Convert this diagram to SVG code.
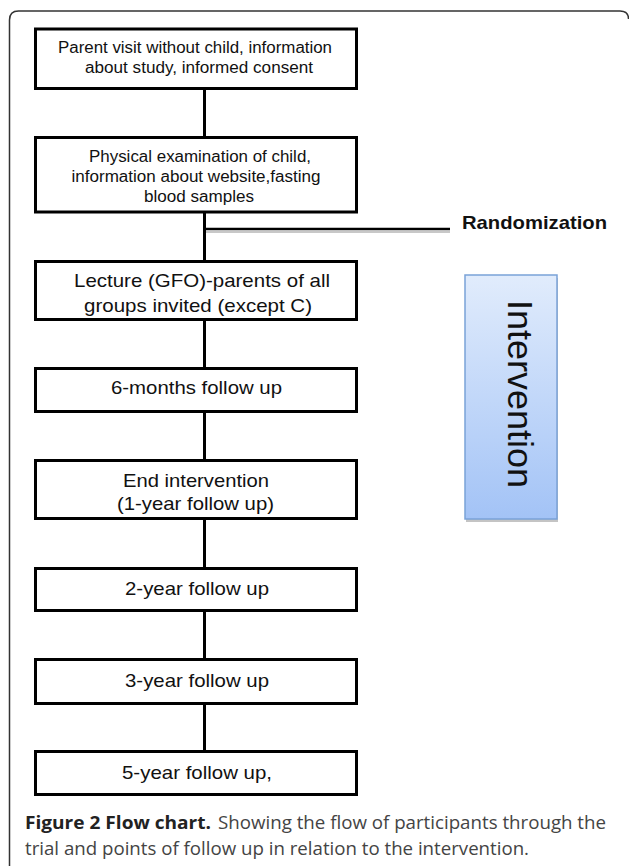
<svg xmlns="http://www.w3.org/2000/svg" width="629" height="866" viewBox="0 0 629 866">
<style>
.box{fill:#fff;stroke:#000;stroke-width:3}
.t{font-family:"Liberation Sans",Arial,sans-serif;fill:#111;text-anchor:middle}
.s{font-size:16px}
.m{font-size:19px}
.con{stroke:#000;stroke-width:3;fill:none}
.cap{font-family:"Open Sans","Noto Sans",sans-serif;font-size:18px}
</style>
<defs>
<linearGradient id="ig" x1="0" y1="0" x2="0" y2="1">
<stop offset="0" stop-color="#e1ecfc"/>
<stop offset="1" stop-color="#a3c3f6"/>
</linearGradient>
</defs>
<rect width="629" height="866" fill="#fff"/>
<path d="M9.5,866 V20 Q9.5,11 18.5,11 H620 Q628.5,11 628.5,19" fill="none" stroke="#333" stroke-width="1.5"/>

<g id="connectors">
<line class="con" x1="204.5" y1="90" x2="204.5" y2="136"/>
<line class="con" x1="204.5" y1="213" x2="204.5" y2="260"/>
<line x1="206" y1="232" x2="450" y2="232" stroke="#c8c8c8" stroke-width="2"/>
<line x1="204" y1="229" x2="450" y2="229" stroke="#000" stroke-width="2.5"/>
<line class="con" x1="204.5" y1="321" x2="204.5" y2="367"/>
<line class="con" x1="204.5" y1="413" x2="204.5" y2="459"/>
<line class="con" x1="204.5" y1="520" x2="204.5" y2="567"/>
<line class="con" x1="204.5" y1="612" x2="204.5" y2="658"/>
<line class="con" x1="204.5" y1="705" x2="204.5" y2="750"/>
</g>

<g id="n1">
<rect class="box" x="35.5" y="29" width="321" height="59.5"/>
<text class="t s" x="195" y="52.5" textLength="274" lengthAdjust="spacingAndGlyphs">Parent visit without child, information</text>
<text class="t s" x="199" y="72.5" textLength="228" lengthAdjust="spacingAndGlyphs">about study, informed consent</text>
</g>

<g id="n2">
<rect class="box" x="35.5" y="137.5" width="321" height="74.5"/>
<text class="t s" x="200" y="161.5" textLength="222" lengthAdjust="spacingAndGlyphs">Physical examination of child,</text>
<text class="t s" x="196" y="181.5" textLength="249" lengthAdjust="spacingAndGlyphs">information about website,fasting</text>
<text class="t s" x="199" y="201.5" textLength="110" lengthAdjust="spacingAndGlyphs">blood samples</text>
</g>

<g id="randomization">
<text x="462" y="229" font-family="'Liberation Sans',Arial,sans-serif" font-size="19" font-weight="bold" fill="#111" textLength="145" lengthAdjust="spacingAndGlyphs">Randomization</text>
</g>

<g id="n3">
<rect class="box" x="35.5" y="261.5" width="321" height="58"/>
<text class="t m" x="202" y="287" textLength="256" lengthAdjust="spacingAndGlyphs">Lecture (GFO)-parents of all</text>
<text class="t m" x="198" y="312" textLength="228" lengthAdjust="spacingAndGlyphs">groups invited (except C)</text>
</g>

<g id="n4">
<rect class="box" x="35.5" y="368.5" width="321" height="43"/>
<text class="t m" x="196.5" y="394" textLength="171" lengthAdjust="spacingAndGlyphs">6-months follow up</text>
</g>

<g id="n5">
<rect class="box" x="35.5" y="460.5" width="321" height="58"/>
<text class="t m" x="196" y="487" textLength="146" lengthAdjust="spacingAndGlyphs">End intervention</text>
<text class="t m" x="195.5" y="510" textLength="157" lengthAdjust="spacingAndGlyphs">(1-year follow up)</text>
</g>

<g id="n6">
<rect class="box" x="35.5" y="568.5" width="321" height="42"/>
<text class="t m" x="197" y="594.5" textLength="144" lengthAdjust="spacingAndGlyphs">2-year follow up</text>
</g>

<g id="n7">
<rect class="box" x="35.5" y="659.5" width="321" height="44"/>
<text class="t m" x="197" y="686.5" textLength="144" lengthAdjust="spacingAndGlyphs">3-year follow up</text>
</g>

<g id="n8">
<rect class="box" x="35.5" y="751.5" width="321" height="43"/>
<text class="t m" x="197" y="778.5" textLength="150" lengthAdjust="spacingAndGlyphs">5-year follow up,</text>
</g>

<g id="intervention">
<rect x="466" y="278" width="92" height="244" fill="#c4c4c4"/>
<rect x="465" y="275" width="92" height="244" fill="url(#ig)" stroke="#7aa2d8" stroke-width="1.5"/>
<text transform="translate(508,394) rotate(90)" text-anchor="middle" font-family="'Liberation Sans',Arial,sans-serif" font-size="35" fill="#111" textLength="188" lengthAdjust="spacingAndGlyphs">Intervention</text>
</g>

<g id="caption">
<text class="cap" x="25" y="829" font-weight="bold" fill="#222" textLength="186" lengthAdjust="spacingAndGlyphs">Figure 2 Flow chart.</text>
<text class="cap" x="218" y="829" fill="#444" textLength="388" lengthAdjust="spacingAndGlyphs">Showing the flow of participants through the</text>
<text class="cap" x="25" y="855" fill="#444" textLength="504" lengthAdjust="spacingAndGlyphs">trial and points of follow up in relation to the intervention.</text>
</g>
</svg>
